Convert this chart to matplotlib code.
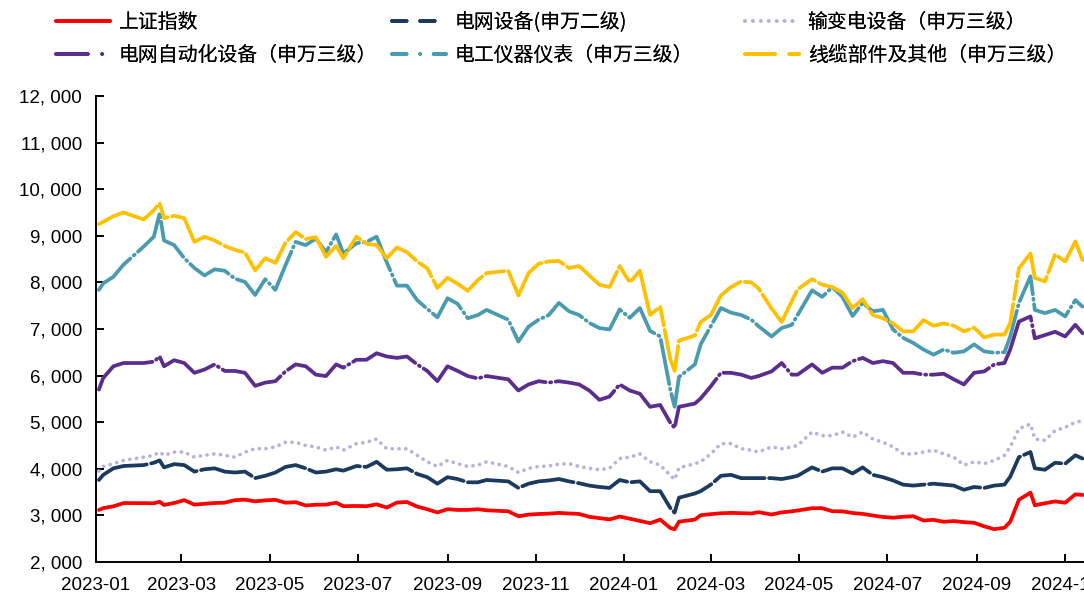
import matplotlib
matplotlib.use("Agg")
import matplotlib.pyplot as plt
import matplotlib.dates as mdates
from matplotlib.lines import Line2D
from matplotlib.ticker import FuncFormatter, MultipleLocator
import pandas as pd

# Weekly closing levels, Jan 2023 - Nov 2024
dates = [
    "2023-01-03", "2023-01-06", "2023-01-13", "2023-01-20", "2023-02-03", "2023-02-10", "2023-02-14", "2023-02-17", "2023-02-24", "2023-03-03",
    "2023-03-10", "2023-03-17", "2023-03-24", "2023-03-31", "2023-04-07", "2023-04-14", "2023-04-21", "2023-04-28", "2023-05-05", "2023-05-12",
    "2023-05-19", "2023-05-26", "2023-06-02", "2023-06-09", "2023-06-16", "2023-06-21", "2023-06-30", "2023-07-07", "2023-07-14", "2023-07-21",
    "2023-07-28", "2023-08-04", "2023-08-11", "2023-08-18", "2023-08-25", "2023-09-01", "2023-09-08", "2023-09-15", "2023-09-22", "2023-09-28",
    "2023-10-13", "2023-10-20", "2023-10-27", "2023-11-03", "2023-11-10", "2023-11-17", "2023-11-24", "2023-12-01", "2023-12-08", "2023-12-15",
    "2023-12-22", "2023-12-29", "2024-01-05", "2024-01-12", "2024-01-19", "2024-01-26", "2024-02-02", "2024-02-05", "2024-02-08", "2024-02-19",
    "2024-02-23", "2024-03-01", "2024-03-08", "2024-03-15", "2024-03-22", "2024-03-29", "2024-04-03", "2024-04-12", "2024-04-19", "2024-04-26",
    "2024-04-30", "2024-05-10", "2024-05-17", "2024-05-24", "2024-05-31", "2024-06-07", "2024-06-14", "2024-06-21", "2024-06-28", "2024-07-05",
    "2024-07-12", "2024-07-19", "2024-07-26", "2024-08-02", "2024-08-09", "2024-08-16", "2024-08-23", "2024-08-30", "2024-09-06", "2024-09-13",
    "2024-09-20", "2024-09-24", "2024-09-30", "2024-10-08", "2024-10-11", "2024-10-18", "2024-10-25", "2024-11-01", "2024-11-08", "2024-11-13",
]

sse = [
    3116, 3157, 3195, 3265, 3263, 3260, 3293, 3224, 3267, 3328,
    3230, 3250, 3266, 3273, 3327, 3338, 3301, 3323, 3334, 3272,
    3284, 3212, 3230, 3231, 3273, 3198, 3202, 3197, 3237, 3168,
    3276, 3288, 3189, 3131, 3064, 3133, 3117, 3118, 3132, 3110,
    3088, 2983, 3017, 3030, 3038, 3054, 3041, 3031, 2969, 2942,
    2914, 2975, 2929, 2882, 2833, 2910, 2730, 2702, 2866, 2910,
    3004, 3027, 3046, 3054, 3048, 3041, 3069, 3019, 3065, 3088,
    3105, 3154, 3154, 3089, 3087, 3051, 3032, 2998, 2967, 2950,
    2971, 2982, 2891, 2905, 2862, 2879, 2855, 2842, 2765, 2704,
    2736, 2863, 3336, 3489, 3217, 3261, 3300, 3272, 3452, 3439,
]

grid_equipment = [
    3760, 3870, 4010, 4060, 4080, 4130, 4180, 4030, 4100, 4080,
    3940, 3990, 4010, 3940, 3920, 3940, 3800, 3850, 3920, 4040,
    4080, 4010, 3920, 3940, 3990, 3960, 4060, 4040, 4150, 3980,
    3990, 4010, 3890, 3820, 3680, 3820, 3780, 3710, 3710, 3760,
    3730, 3590, 3680, 3730, 3750, 3780, 3730, 3690, 3640, 3610,
    3590, 3760, 3710, 3730, 3520, 3520, 3160, 3060, 3380, 3470,
    3520, 3660, 3850, 3870, 3800, 3800, 3800, 3800, 3780, 3820,
    3850, 4030, 3940, 4010, 4010, 3900, 4030, 3870, 3820, 3750,
    3660, 3640, 3660, 3680, 3660, 3640, 3550, 3610, 3590, 3640,
    3660, 3830, 4250, 4360, 4010, 3980, 4130, 4110, 4290, 4220,
]

transmission = [
    3950, 4050, 4110, 4180, 4250, 4290, 4360, 4290, 4360, 4360,
    4250, 4290, 4320, 4290, 4250, 4360, 4430, 4430, 4470, 4570,
    4570, 4500, 4470, 4400, 4470, 4400, 4540, 4570, 4640, 4430,
    4430, 4430, 4290, 4150, 4050, 4180, 4110, 4050, 4080, 4150,
    4050, 3920, 4010, 4050, 4060, 4100, 4110, 4050, 4010, 3980,
    4010, 4220, 4250, 4320, 4150, 4080, 3860, 3770, 4020, 4110,
    4150, 4320, 4540, 4540, 4430, 4400, 4360, 4470, 4430, 4470,
    4500, 4790, 4710, 4710, 4790, 4680, 4790, 4640, 4570, 4470,
    4320, 4320, 4360, 4400, 4320, 4250, 4080, 4150, 4110, 4180,
    4290, 4470, 4860, 4960, 4640, 4610, 4820, 4890, 5000, 5030,
]

grid_automation = [
    5700, 5950, 6200, 6270, 6270, 6300, 6410, 6200, 6330, 6270,
    6060, 6130, 6240, 6100, 6100, 6060, 5780, 5850, 5880, 6090,
    6240, 6200, 6020, 5990, 6240, 6170, 6340, 6340, 6480, 6410,
    6380, 6410, 6240, 6100, 5880, 6200, 6100, 5990, 5940, 5990,
    5920, 5680, 5810, 5880, 5850, 5880, 5850, 5810, 5680, 5480,
    5550, 5810, 5680, 5610, 5330, 5370, 4990, 4880, 5330, 5400,
    5510, 5770, 6060, 6060, 6020, 5950, 5990, 6090, 6270, 6020,
    6020, 6240, 6060, 6170, 6170, 6310, 6380, 6270, 6310, 6270,
    6060, 6060, 6020, 6020, 6040, 5920, 5810, 6060, 6090, 6240,
    6270, 6560, 7160, 7270, 6800, 6870, 6940, 6840, 7090, 6910,
]

instruments = [
    7840, 7980, 8120, 8380, 8770, 8980, 9490, 8900, 8800, 8520,
    8310, 8150, 8280, 8250, 8080, 8010, 7730, 8070, 7840, 8370,
    8870, 8800, 8940, 8650, 9030, 8620, 8840, 8870, 8980, 8430,
    7930, 7930, 7620, 7430, 7250, 7660, 7540, 7230, 7300, 7410,
    7200, 6730, 7050, 7200, 7300, 7560, 7380, 7300, 7130, 7020,
    6990, 7420, 7240, 7450, 6960, 6840, 5700, 5330, 5970, 6240,
    6670, 7060, 7450, 7350, 7300, 7200, 7060, 6840, 7020, 7090,
    7300, 7830, 7690, 7900, 7690, 7280, 7560, 7380, 7410, 6990,
    6810, 6700, 6560, 6450, 6560, 6490, 6520, 6670, 6520, 6490,
    6500, 6840, 7560, 8130, 7410, 7340, 7410, 7270, 7620, 7480,
]

cable = [
    9250, 9300, 9420, 9500, 9350, 9550, 9700, 9380, 9430, 9380,
    8870, 8980, 8900, 8780, 8700, 8640, 8260, 8520, 8420, 8850,
    9080, 8930, 8970, 8550, 8780, 8520, 8980, 8830, 8800, 8520,
    8750, 8650, 8450, 8300, 7880, 8100, 7970, 7820, 8050, 8200,
    8250, 7720, 8200, 8400, 8450, 8460, 8310, 8350, 8150, 7950,
    7900, 8350, 8000, 8250, 7300, 7480, 6350, 6100, 6750, 6860,
    7150, 7300, 7720, 7900, 8020, 8000, 7870, 7440, 7150, 7600,
    7850, 8070, 7950, 7900, 7780, 7450, 7640, 7300, 7230, 7120,
    6950, 6950, 7190, 7070, 7120, 7070, 6950, 7030, 6820, 6880,
    6880, 7130, 8300, 8620, 8100, 8020, 8600, 8450, 8880, 8480,
]

labels = [
    "上证指数",
    "电网设备(申万二级)",
    "输变电设备（申万三级）",
    "电网自动化设备（申万三级）",
    "电工仪器仪表（申万三级）",
    "线缆部件及其他（申万三级）",
]
series = [sse, grid_equipment, transmission, grid_automation, instruments, cable]
colors = ["#FF0000", "#1C3A5E", "#B4B2E0", "#5C2D8D", "#4A9BB0", "#FFC000"]
# dash patterns for the plotted lines (in units of line width)
line_dashes = [None, (0, (14, 1.2)), (0, (0.01, 1.8)), (0, (18, 1.2, 0.3, 1.2)),
               (0, (12, 1.2, 0.3, 1.2)), (0, (18, 1.2, 5, 1.2))]
# shorter patterns for the legend keys
key_dashes = [None, (0, (3.9, 3.6)), (0, (0.01, 2.1)), (0, (8.5, 3.8, 0.01, 3.8)),
              (0, (3.9, 3.6, 0.01, 3.6)), (0, (8.0, 3.8, 3.4, 3.8))]

CJK = ["Noto Sans CJK SC", "DejaVu Sans"]
NUM = ["Liberation Sans", "DejaVu Sans"]

W, H = 1084, 599
fig = plt.figure(figsize=(W / 100, H / 100), dpi=100)
ax = fig.add_axes([96 / W, (H - 562) / H, (W - 96) / W, (562 - 96) / H])

x = pd.to_datetime(dates)
lw = 2.7
for vals, col, ds in zip(series, colors, line_dashes):
    kw = dict(color=col, lw=lw, solid_joinstyle="round")
    if ds is None:
        ax.plot(x, vals, linestyle="-", solid_capstyle="round", **kw)
    else:
        ax.plot(x, vals, linestyle=ds, dash_capstyle="round", dash_joinstyle="round", **kw)

ax.set_xlim(pd.Timestamp("2023-01-01"), pd.Timestamp("2024-11-14"))
ax.set_ylim(2000, 12000)
ax.yaxis.set_major_locator(MultipleLocator(1000))
ax.yaxis.set_major_formatter(FuncFormatter(lambda v, p: f"{int(v):,}".replace(",", ", ")))
ax.xaxis.set_major_locator(mdates.MonthLocator(bymonth=[1, 3, 5, 7, 9, 11]))
ax.xaxis.set_major_formatter(mdates.DateFormatter("%Y-%m"))

for side in ("top", "right"):
    ax.spines[side].set_visible(False)
for side in ("left", "bottom"):
    ax.spines[side].set_linewidth(1.4)
    ax.spines[side].set_color("black")
ax.tick_params(axis="both", direction="in", length=6, width=1.4, colors="black", labelsize=13.5)
ax.tick_params(axis="y", pad=10)
ax.tick_params(axis="x", pad=11)
for t in ax.get_xticklabels() + ax.get_yticklabels():
    t.set_family(NUM)
ax.set_facecolor("white")

# legend: three columns of two rows each
handles = []
for col, ds in zip(colors, key_dashes):
    if ds is None:
        handles.append(Line2D([], [], color=col, lw=lw, linestyle="-", solid_capstyle="round"))
    else:
        handles.append(Line2D([], [], color=col, lw=lw, linestyle=ds, dash_capstyle="round"))

col_x = [56, 392, 745]
for i, cx in enumerate(col_x):
    idx = [i, i + 3]
    leg = fig.legend([handles[j] for j in idx], [labels[j] for j in idx],
                     loc="upper left", bbox_to_anchor=(cx / W, 1 - 12 / H),
                     frameon=False, ncol=1, borderpad=0, borderaxespad=0,
                     handlelength=2.7, handletextpad=0.45, labelspacing=0.58,
                     prop={"family": CJK, "size": 14.3})
    fig.add_artist(leg)

fig.savefig("out.png", dpi=100, facecolor="white")
